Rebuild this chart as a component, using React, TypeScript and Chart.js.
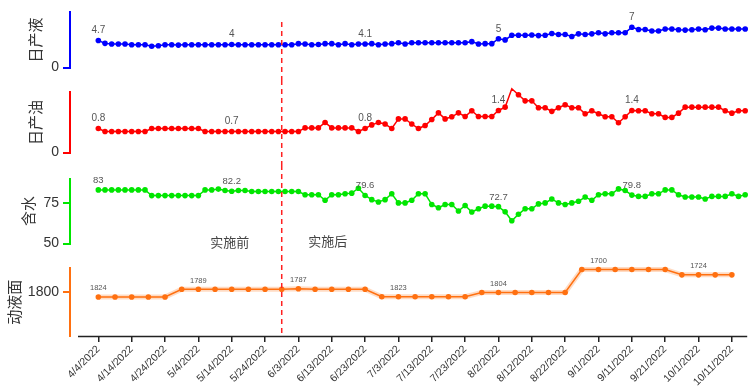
import { useEffect, useRef } from "react";
import { Chart, registerables } from "chart.js";

Chart.register(...registerables);

// ---------- DATA ----------
const dailyDates = [
  "2022-04-04","2022-04-06","2022-04-08","2022-04-10","2022-04-12","2022-04-14","2022-04-16","2022-04-18","2022-04-20","2022-04-22","2022-04-24","2022-04-26","2022-04-28","2022-04-30",
  "2022-05-02","2022-05-04","2022-05-06","2022-05-08","2022-05-10","2022-05-12","2022-05-14","2022-05-16","2022-05-18","2022-05-20","2022-05-22","2022-05-24","2022-05-26","2022-05-28","2022-05-30",
  "2022-06-01","2022-06-03","2022-06-05","2022-06-07","2022-06-09","2022-06-11","2022-06-13","2022-06-15","2022-06-17","2022-06-19","2022-06-21","2022-06-23","2022-06-25","2022-06-27","2022-06-29",
  "2022-07-01","2022-07-03","2022-07-05","2022-07-07","2022-07-09","2022-07-11","2022-07-13","2022-07-15","2022-07-17","2022-07-19","2022-07-21","2022-07-23","2022-07-25","2022-07-27","2022-07-29","2022-07-31",
  "2022-08-02","2022-08-04","2022-08-06","2022-08-08","2022-08-10","2022-08-12","2022-08-14","2022-08-16","2022-08-18","2022-08-20","2022-08-22","2022-08-24","2022-08-26","2022-08-28","2022-08-30",
  "2022-09-01","2022-09-03","2022-09-05","2022-09-07","2022-09-09","2022-09-11","2022-09-13","2022-09-15","2022-09-17","2022-09-19","2022-09-21","2022-09-23","2022-09-25","2022-09-27","2022-09-29",
  "2022-10-01","2022-10-03","2022-10-05","2022-10-07","2022-10-09","2022-10-11","2022-10-13","2022-10-15",
];

const dailyLiquid = [
  4.7, 4.2, 4.1, 4.1, 4.1, 3.95, 3.95, 3.95, 3.7, 3.8, 3.95, 3.95, 3.9, 3.95,
  3.95, 3.95, 3.95, 3.95, 3.95, 3.95, 4, 3.95, 3.95, 3.95, 3.95, 3.95, 3.95, 3.95, 3.95,
  3.95, 4.15, 4.1, 3.95, 4.0, 4.15, 4.15, 3.95, 4.15, 3.95, 4.1, 4.1, 4.15, 3.95, 4.1,
  4.15, 4.3, 4.1, 4.3, 4.3, 4.3, 4.3, 4.3, 4.3, 4.3, 4.3, 4.3, 4.5, 4.1, 4.15, 4.15,
  5, 4.8, 5.6, 5.6, 5.6, 5.65, 5.55, 5.6, 5.9, 5.75, 5.75, 5.4, 5.85, 5.75, 5.85,
  6.05, 5.85, 6.05, 6.05, 6.05, 7, 6.6, 6.6, 6.35, 6.35, 6.7, 6.7, 6.55, 6.5, 6.55,
  6.7, 6.55, 6.85, 6.85, 6.7, 6.7, 6.7, 6.7,
];

const dailyOil = [
  0.8, 0.7, 0.7, 0.7, 0.7, 0.7, 0.7, 0.7, 0.8, 0.8, 0.8, 0.8, 0.8, 0.8,
  0.8, 0.8, 0.7, 0.7, 0.7, 0.7, 0.7, 0.7, 0.7, 0.7, 0.7, 0.7, 0.7, 0.7, 0.7,
  0.7, 0.7, 0.82, 0.82, 0.82, 1.0, 0.82, 0.82, 0.82, 0.82, 0.7, 0.8, 0.92, 1.0, 0.95,
  0.8, 1.12, 1.12, 0.95, 0.8, 0.9, 1.1, 1.32, 1.12, 1.19, 1.32, 1.2, 1.39, 1.2, 1.2, 1.2,
  1.4, 1.51, 2.12, 1.92, 1.72, 1.72, 1.49, 1.49, 1.37, 1.49, 1.59, 1.49, 1.49, 1.29, 1.39,
  1.29, 1.19, 1.19, 0.99, 1.19, 1.4, 1.39, 1.39, 1.29, 1.29, 1.17, 1.17, 1.31, 1.51, 1.51,
  1.51, 1.51, 1.51, 1.51, 1.39, 1.31, 1.39, 1.39,
];

const dailyWaterCut = [
  83, 83, 83, 83, 83, 83, 83, 83, 79.5, 79.5, 79.5, 79.5, 79.5, 79.5,
  79.5, 79.5, 83, 83, 83.5, 82.6, 82.2, 82.6, 82.6, 82, 82, 82, 82, 82, 82,
  82, 82, 80, 80, 80, 76.6, 80, 80, 80.6, 81, 84, 79.6, 77, 75.6, 77,
  80.6, 75, 75, 76.6, 80.6, 80.6, 74, 72, 74, 74, 70, 73.4, 69.4, 71.4, 73, 73,
  72.7, 69.5, 64, 68, 71.4, 71.4, 74.4, 75, 77.4, 75, 74, 75, 76, 78.6, 76.6,
  80, 80.6, 80.6, 83.6, 82.6, 79.8, 79, 79, 80.6, 80.6, 83, 83, 80, 78.6, 78.6,
  78.6, 77.4, 79, 79, 79, 80.6, 79, 80,
];

const levelDates = [
  "2022-04-04","2022-04-09","2022-04-14","2022-04-19","2022-04-24","2022-04-29","2022-05-04","2022-05-09","2022-05-14","2022-05-19",
  "2022-05-24","2022-05-29","2022-06-03","2022-06-08","2022-06-13","2022-06-18","2022-06-23","2022-06-28","2022-07-03","2022-07-08",
  "2022-07-13","2022-07-18","2022-07-23","2022-07-28","2022-08-02","2022-08-07","2022-08-12","2022-08-17","2022-08-22","2022-08-27",
  "2022-09-01","2022-09-06","2022-09-11","2022-09-16","2022-09-21","2022-09-26","2022-10-01","2022-10-06","2022-10-11",
];

const fluidLevel = [
  1824, 1824, 1824, 1824, 1824, 1789, 1789, 1789, 1789, 1789,
  1789, 1789, 1787, 1789, 1789, 1789, 1789, 1823, 1823, 1823,
  1823, 1823, 1823, 1804, 1804, 1804, 1804, 1804, 1804, 1700,
  1700, 1700, 1700, 1700, 1700, 1724, 1724, 1724, 1724,
];

const tickDates = [
  "2022-04-04","2022-04-14","2022-04-24","2022-05-04","2022-05-14","2022-05-24","2022-06-03","2022-06-13","2022-06-23","2022-07-03",
  "2022-07-13","2022-07-23","2022-08-02","2022-08-12","2022-08-22","2022-09-01","2022-09-11","2022-09-21","2022-10-01","2022-10-11",
];

const dailyLabelDates = ["2022-04-04", "2022-05-14", "2022-06-23", "2022-08-02", "2022-09-11"];
const levelLabelDates = ["2022-04-04", "2022-05-04", "2022-06-03", "2022-07-03", "2022-08-02", "2022-09-01", "2022-10-01"];

const interventionDate = "2022-05-29";
const beforeText = "实施前";
const afterText = "实施后";

// ---------- HELPERS ----------
const BASE = Date.UTC(2022, 3, 4);
function dayOf(s: string) {
  const [y, m, d] = s.split("-").map(Number);
  return (Date.UTC(y, m - 1, d) - BASE) / 86400000;
}
function fmtDay(v: number) {
  const dt = new Date(BASE + Math.round(v) * 86400000);
  return `${dt.getUTCMonth() + 1}/${dt.getUTCDate()}/${dt.getUTCFullYear()}`;
}

const X_MIN = -8.5;
const X_MAX = 194.6;
const CJK = "'Noto Sans CJK SC', sans-serif";

interface Panel {
  top: number;
  height: number;
  padTop: number;
  padBottom: number;
  title: string;
  titlePad: number;
  color: string;
  dates: string[];
  values: number[];
  min: number;
  max: number;
  reverse?: boolean;
  ticks: number[];
  labelDates: string[];
  labelSize: number;
  showX: boolean;
  dashTop: number;
  dashBottom: number;
  glow?: boolean;
  phaseText?: boolean;
}

const panels: Panel[] = [
  {
    top: 0, height: 80, padTop: 4, padBottom: 9, title: "日产液", titlePad: 26, color: "#0000ff",
    dates: dailyDates, values: dailyLiquid, min: 0, max: 9.57, ticks: [0], labelDates: dailyLabelDates,
    labelSize: 10, showX: false, dashTop: 22, dashBottom: 80,
  },
  {
    top: 80, height: 85, padTop: 8, padBottom: 10, title: "日产油", titlePad: 26, color: "#ff0000",
    dates: dailyDates, values: dailyOil, min: 0, max: 2, ticks: [0], labelDates: dailyLabelDates,
    labelSize: 10, showX: false, dashTop: 0, dashBottom: 85,
  },
  {
    top: 165, height: 91, padTop: 13.5, padBottom: 11, title: "含水", titlePad: 19, color: "#00e600",
    dates: dailyDates, values: dailyWaterCut, min: 50, max: 90, ticks: [50, 75], labelDates: dailyLabelDates,
    labelSize: 9.5, showX: false, dashTop: 0, dashBottom: 91, phaseText: true,
  },
  {
    top: 256, height: 132, padTop: 11, padBottom: 0, title: "动液面", titlePad: 5, color: "#ff7010",
    dates: levelDates, values: fluidLevel, min: 1695, max: 2000, reverse: true, ticks: [1800],
    labelDates: levelLabelDates, labelSize: 7.5, showX: true, dashTop: 0, dashBottom: 80, glow: true,
  },
];

function makeChart(canvas: HTMLCanvasElement, p: Panel) {
  const points = p.dates.map((d, i) => ({ x: dayOf(d), y: p.values[i] }));
  const datasets: any[] = [];
  if (p.glow) {
    datasets.push({
      data: points, borderColor: "rgba(255,112,16,0.25)", borderWidth: 5, pointRadius: 0,
      fill: false, clip: false, tension: 0,
    });
  }
  datasets.push({
    data: points, borderColor: p.color, backgroundColor: p.color, borderWidth: 1.5,
    pointRadius: 2.8, pointHoverRadius: 2.8, pointBorderWidth: 0, pointBackgroundColor: p.color,
    fill: false, clip: false, tension: 0,
  });
  const mainIndex = datasets.length - 1;

  const overlay = {
    id: "overlay",
    afterDatasetsDraw(chart: any) {
      const { ctx, chartArea, scales } = chart;
      ctx.save();
      // data labels
      const meta = chart.getDatasetMeta(mainIndex);
      ctx.fillStyle = "#555";
      ctx.font = `${p.labelSize}px 'Liberation Sans', Arial, sans-serif`;
      ctx.textAlign = "center";
      ctx.textBaseline = "bottom";
      p.labelDates.forEach((d) => {
        const idx = p.dates.indexOf(d);
        const el = meta.data[idx];
        if (!el) return;
        ctx.fillText(String(p.values[idx]), el.x, el.y - 5);
      });
      // intervention dashed line
      const x = scales.x.getPixelForValue(dayOf(interventionDate));
      ctx.strokeStyle = "#ff2020";
      ctx.lineWidth = 1.5;
      ctx.setLineDash([5, 4]);
      ctx.beginPath();
      ctx.moveTo(x, p.dashTop);
      ctx.lineTo(x, p.dashBottom);
      ctx.stroke();
      ctx.setLineDash([]);
      if (p.phaseText) {
        ctx.fillStyle = "#444";
        ctx.font = `13px ${CJK}`;
        ctx.textAlign = "center";
        ctx.textBaseline = "middle";
        ctx.fillText(beforeText, x - 52, 77);
        ctx.fillText(afterText, x + 46, 76);
      }
      if (p.showX) {
        ctx.strokeStyle = "#222";
        ctx.lineWidth = 1.5;
        ctx.beginPath();
        ctx.moveTo(chartArea.left + 8, chartArea.bottom + 0.5);
        ctx.lineTo(chartArea.right, chartArea.bottom + 0.5);
        ctx.stroke();
      }
      ctx.restore();
    },
  };

  return new Chart(canvas, {
    type: "line",
    data: { datasets },
    plugins: [overlay],
    options: {
      animation: false,
      responsive: false,
      maintainAspectRatio: false,
      events: [],
      layout: { padding: { top: p.padTop, bottom: p.padBottom, left: 0, right: 2 } },
      plugins: { legend: { display: false }, tooltip: { enabled: false } },
      scales: {
        x: {
          type: "linear",
          min: X_MIN,
          max: X_MAX,
          display: p.showX,
          afterBuildTicks: (s: any) => {
            s.ticks = tickDates.map((d) => ({ value: dayOf(d) }));
          },
          afterFit: (s: any) => {
            s.height = p.showX ? 52 : 0;
          },
          ticks: {
            autoSkip: false,
            minRotation: 45,
            maxRotation: 45,
            padding: 1,
            color: "#333",
            font: { size: 10.5 },
            callback: (v: any) => fmtDay(Number(v)),
          },
          grid: { drawOnChartArea: false, drawTicks: true, tickLength: 6, color: "#222", lineWidth: 1.5 },
          border: { display: false },
        },
        y: {
          type: "linear",
          min: p.min,
          max: p.max,
          reverse: !!p.reverse,
          afterBuildTicks: (s: any) => {
            s.ticks = p.ticks.map((v) => ({ value: v }));
          },
          afterFit: (s: any) => {
            s.width = 70;
          },
          ticks: { color: "#333", font: { size: 14 }, padding: 4, callback: (v: any) => String(v) },
          grid: { drawOnChartArea: false, drawTicks: true, tickLength: 7, color: p.color, lineWidth: 2 },
          border: { display: true, color: p.color, width: 2 },
          title: {
            display: true,
            text: p.title,
            color: "#333",
            font: { size: 15, family: CJK },
            padding: { top: p.titlePad, bottom: 0 },
          },
        },
      },
    } as any,
  });
}

export default function App() {
  const refs = useRef<(HTMLCanvasElement | null)[]>([]);

  useEffect(() => {
    document.body.style.margin = "0";
    Chart.defaults.font.family = "'Liberation Sans', Arial, sans-serif";
    const charts = panels.map((p, i) => makeChart(refs.current[i] as HTMLCanvasElement, p));
    return () => charts.forEach((c) => c.destroy());
  }, []);

  return (
    <div style={{ position: "relative", width: 750, height: 388, background: "#fff" }}>
      {panels.map((p, i) => (
        <canvas
          key={i}
          ref={(el) => {
            refs.current[i] = el;
          }}
          width={750}
          height={p.height}
          style={{ position: "absolute", left: 0, top: p.top, width: 750, height: p.height }}
        />
      ))}
    </div>
  );
}
